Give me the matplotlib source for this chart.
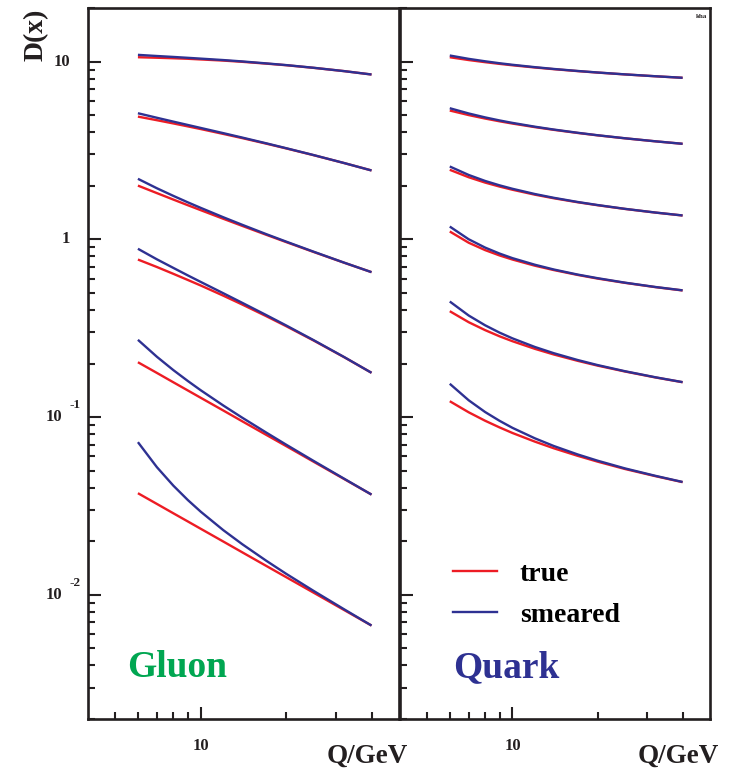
import matplotlib
matplotlib.use("Agg")
import matplotlib.pyplot as plt
from matplotlib.ticker import FixedLocator, NullFormatter
from matplotlib.lines import Line2D
import matplotlib.transforms as mtransforms

plt.rcParams['font.family'] = ['Liberation Serif', 'DejaVu Serif']
plt.rcParams['font.weight'] = 'bold'

# ---------------- data ----------------
Q = [6, 7, 8, 9, 10, 12, 14, 17, 20, 25, 32, 40]

gluon_true = [
    [10.57, 10.50, 10.43, 10.36, 10.27, 10.12, 9.96, 9.73, 9.53, 9.21, 8.83, 8.45],
    [4.898, 4.675, 4.483, 4.315, 4.168, 3.914, 3.707, 3.451, 3.244, 2.971, 2.684, 2.438],
    [2.004, 1.818, 1.672, 1.554, 1.457, 1.304, 1.189, 1.060, 0.964, 0.848, 0.738, 0.653],
    [0.769, 0.698, 0.639, 0.590, 0.549, 0.4816, 0.4293, 0.3694, 0.3243, 0.2693, 0.2172, 0.1773],
    [0.2033, 0.1770, 0.1568, 0.1410, 0.1282, 0.1088, 0.0946, 0.0794, 0.0686, 0.0560, 0.0448, 0.0366],
    [0.03727, 0.03243, 0.02873, 0.02584, 0.02349, 0.01993, 0.01733, 0.01454, 0.01256, 0.01027, 0.00821, 0.00671],
]
gluon_smeared = [
    [10.90, 10.74, 10.61, 10.49, 10.38, 10.19, 10.01, 9.76, 9.546, 9.22, 8.83, 8.45],
    [5.117, 4.825, 4.590, 4.395, 4.228, 3.954, 3.733, 3.467, 3.253, 2.976, 2.685, 2.438],
    [2.188, 1.936, 1.754, 1.613, 1.501, 1.330, 1.206, 1.069, 0.970, 0.851, 0.739, 0.653],
    [0.884, 0.771, 0.690, 0.626, 0.575, 0.497, 0.4389, 0.3747, 0.3274, 0.2706, 0.2176, 0.1773],
    [0.2718, 0.2182, 0.1836, 0.1594, 0.1413, 0.1161, 0.0991, 0.0818, 0.0699, 0.0566, 0.0450, 0.0366],
    [0.0722, 0.0522, 0.0411, 0.0341, 0.0293, 0.0231, 0.01925, 0.01555, 0.01312, 0.01051, 0.00829, 0.00671],
]
quark_true = [
    [10.57, 10.19, 9.915, 9.698, 9.523, 9.255, 9.054, 8.831, 8.664, 8.459, 8.259, 8.097],
    [5.30, 4.996, 4.777, 4.609, 4.476, 4.274, 4.126, 3.963, 3.842, 3.697, 3.556, 3.443],
    [2.459, 2.233, 2.084, 1.979, 1.899, 1.782, 1.701, 1.615, 1.554, 1.481, 1.413, 1.360],
    [1.106, 0.956, 0.869, 0.811, 0.769, 0.710, 0.671, 0.630, 0.601, 0.5685, 0.538, 0.515],
    [0.3938, 0.3415, 0.3082, 0.2845, 0.2669, 0.2419, 0.2248, 0.2071, 0.1946, 0.1803, 0.1670, 0.1569],
    [0.1227, 0.1063, 0.0953, 0.0874, 0.0813, 0.0727, 0.0667, 0.0605, 0.0561, 0.0510, 0.0465, 0.0430],
]
quark_smeared = [
    [10.81, 10.35, 10.03, 9.779, 9.585, 9.294, 9.081, 8.847, 8.674, 8.465, 8.263, 8.099],
    [5.461, 5.101, 4.849, 4.661, 4.515, 4.298, 4.142, 3.973, 3.848, 3.700, 3.558, 3.444],
    [2.567, 2.300, 2.129, 2.011, 1.923, 1.797, 1.711, 1.621, 1.558, 1.483, 1.414, 1.361],
    [1.179, 1.000, 0.898, 0.831, 0.783, 0.719, 0.676, 0.633, 0.604, 0.570, 0.539, 0.516],
    [0.4465, 0.3724, 0.3282, 0.2984, 0.2770, 0.2478, 0.2286, 0.2093, 0.1960, 0.1810, 0.1674, 0.1571],
    [0.1538, 0.1242, 0.1067, 0.0952, 0.0869, 0.0759, 0.0687, 0.0616, 0.0568, 0.0514, 0.0467, 0.0431],
]

ytick_vals = [10, 1, 0.1, 0.01]
ytick_base = ['10', '1', '10', '10']
ytick_exp = ['', '', '-1', '-2']
xtick_major = [10]
xtick_labels = ['10']
xtick_minor = [5, 6, 7, 8, 9, 20, 30, 40]
panel_names = ['Gluon', 'Quark']
legend_labels = ['true', 'smeared']

RED = '#ED1C24'
BLUE = '#2E3192'
GREEN = '#00A651'
INK = '#231F20'

W, H = 731, 771
fig = plt.figure(figsize=(W / 100, H / 100), dpi=100)

def px_rect(x0, x1, ytop, ybot):
    return [x0 / W, 1 - ybot / H, (x1 - x0) / W, (ybot - ytop) / H]

axL = fig.add_axes(px_rect(88, 399, 8, 719))
axR = fig.add_axes(px_rect(400, 710, 8, 719))

yminor = [m * 10.0 ** e for e in (-3, -2, -1, 0, 1) for m in range(2, 10)]
yminor = [v for v in yminor if 0.002 <= v <= 20]

for ax, tr, sm, name, col, tx in [(axL, gluon_true, gluon_smeared, panel_names[0], GREEN, 0.125),
                                   (axR, quark_true, quark_smeared, panel_names[1], BLUE, 0.171)]:
    ax.set_xscale('log')
    ax.set_yscale('log')
    ax.set_xlim(4, 50)
    ax.set_ylim(0.002, 20)
    for t, s in zip(tr, sm):
        ax.plot(Q, t, color=RED, lw=1.7, solid_capstyle='butt', solid_joinstyle='round', zorder=3)
        ax.plot(Q, s, color=BLUE, lw=1.7, solid_capstyle='butt', solid_joinstyle='round', zorder=4)
    for sp in ax.spines.values():
        sp.set_linewidth(1.9)
        sp.set_color(INK)
    ax.xaxis.set_major_locator(FixedLocator(xtick_major))
    ax.xaxis.set_minor_locator(FixedLocator(xtick_minor))
    ax.xaxis.set_minor_formatter(NullFormatter())
    ax.set_xticklabels(xtick_labels)
    ax.yaxis.set_major_locator(FixedLocator(ytick_vals))
    ax.yaxis.set_minor_locator(FixedLocator(yminor))
    ax.yaxis.set_minor_formatter(NullFormatter())
    ax.set_yticklabels([])
    ax.tick_params(which='both', direction='in', top=False, right=False,
                   color=INK, width=1.5, labelcolor=INK)
    ax.tick_params(which='major', length=9, labelsize=12, pad=14)
    ax.tick_params(which='minor', length=5)
    ax.text(1.0, (719 - 763) / 711, 'Q/GeV',
            transform=ax.transAxes + mtransforms.ScaledTranslation(9 / 100, 0, fig.dpi_scale_trans),
            ha='right', va='baseline', fontsize=19.5, fontweight='bold', color=INK)
    ax.text(tx, 0.059, name, transform=ax.transAxes,
            ha='left', va='baseline', fontsize=27, fontweight='bold', color=col)

# y tick labels on left panel
for v, base, ex in zip(ytick_vals, ytick_base, ytick_exp):
    if ex:
        axL.annotate(base, xy=(0, v), xycoords=('axes fraction', 'data'),
                     xytext=(-26, 0), textcoords='offset pixels',
                     ha='right', va='center', fontsize=12, fontweight='bold', color=INK)
        axL.annotate(ex, xy=(0, v), xycoords=('axes fraction', 'data'),
                     xytext=(-18, 12), textcoords='offset pixels',
                     ha='left', va='center', fontsize=9.5, fontweight='bold', color=INK)
    else:
        axL.annotate(base, xy=(0, v), xycoords=('axes fraction', 'data'),
                     xytext=(-18, 0), textcoords='offset pixels',
                     ha='right', va='center', fontsize=12, fontweight='bold', color=INK)

fig.text(36 / W, 1 - 35 / H, 'D(x)', rotation=90, ha='center', va='center',
         fontsize=20, fontweight='bold', color=INK)

fig.text(707 / W, 1 - 16 / H, 'kha', ha='right', va='center', fontsize=5,
         fontweight='bold', color=INK)

handles = [Line2D([], [], color=RED, lw=1.7), Line2D([], [], color=BLUE, lw=1.7)]
axR.legend(handles, legend_labels, loc='upper left', bbox_to_anchor=(0.171, 0.222),
           frameon=False, handlelength=1.6, handletextpad=0.8,
           labelspacing=0.57, borderpad=0, borderaxespad=0,
           prop={'family': 'Liberation Serif', 'weight': 'bold', 'size': 20})

fig.savefig('out.png', dpi=100)
